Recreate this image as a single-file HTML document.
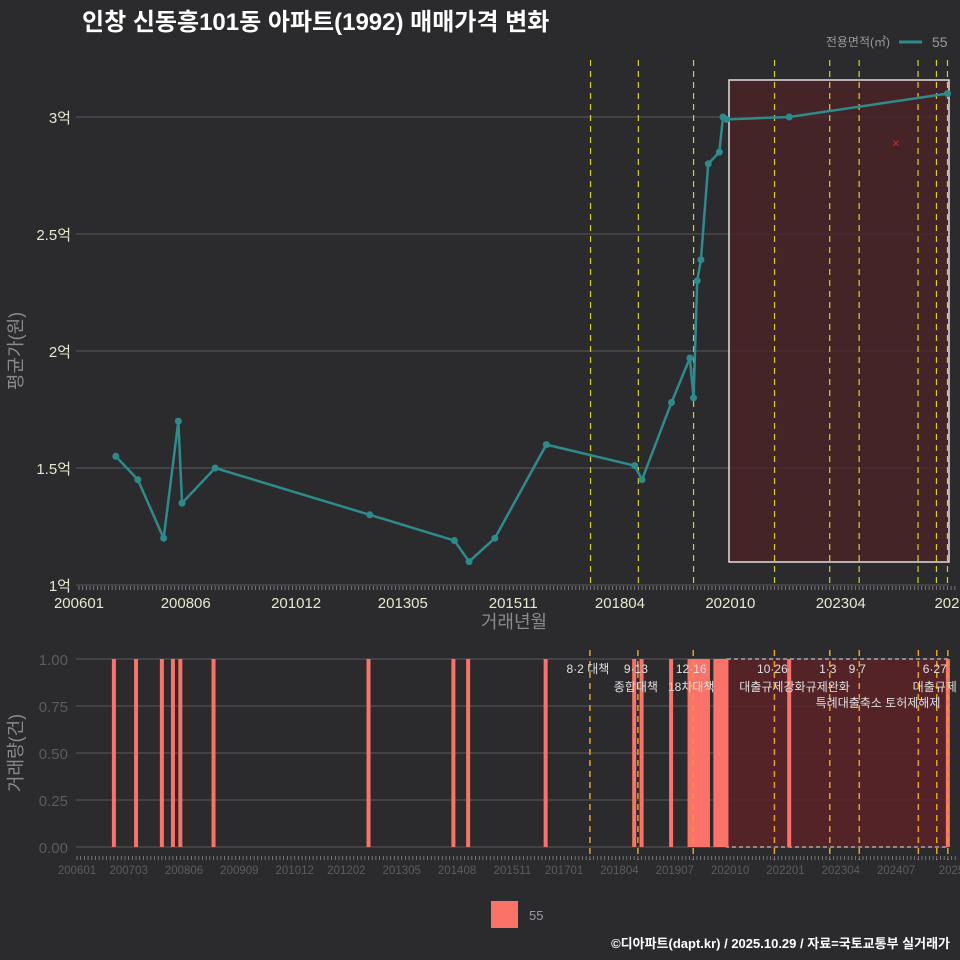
<!DOCTYPE html>
<html><head><meta charset="utf-8">
<style>
html,body{margin:0;padding:0;background:#2b2b2d;}
svg{display:block;font-family:"Liberation Sans","Noto Sans CJK KR",sans-serif;}
</style></head>
<body>
<svg id="chart" width="960" height="960" viewBox="0 0 960 960" xmlns="http://www.w3.org/2000/svg">
<rect width="960" height="960" fill="#2b2b2d"/>
<text x="82" y="30" font-size="24" font-weight="bold" fill="#ffffff">인창 신동흥101동 아파트(1992) 매매가격 변화</text>
<text x="890" y="46" font-size="12" fill="#9a9a9a" text-anchor="end">전용면적(㎡)</text>
<line x1="899" y1="42" x2="922" y2="42" stroke="#2e8b8b" stroke-width="3"/>
<text x="932" y="47" font-size="14" fill="#9a9a9a">55</text>
<g id="topg"></g>
<g id="botg"></g>
<rect x="491" y="901" width="27" height="27" fill="#fa7268"/>
<text x="529" y="920" font-size="13" fill="#9a9a9a">55</text>
<text x="950" y="948" font-size="13" font-weight="bold" fill="#ffffff" text-anchor="end">©디아파트(dapt.kr) / 2025.10.29 / 자료=국토교통부 실거래가</text>
</svg>
<script>
// data: months since 2006-01
const tradeMonths=[10,16,23,27,28,37,79,102,106,113,127,151,153,161,166,167,168,169,171,174,175,176,193,236];
const tradePrices=[1.55,1.45,1.2,1.7,1.35,1.5,1.3,1.19,1.1,1.2,1.6,1.51,1.45,1.78,1.97,1.8,2.3,2.39,2.8,2.85,3.0,2.99,3.0,3.1];
const barMonths=[10,16,23,26,28,37,79,102,106,127,151,153,161,166,167,168,169,170,171,173,174,175,176,193,236];
const barCounts=[1,1,1,1,1,1,1,1,1,1,1,1,1,1,1,1,1,1,1,1,1,1,1,1,1];
const topTickMonths=[0,29,59,88,118,147,177,207,237];
const topTickLabels=["200601","200806","201012","201305","201511","201804","202010","202304","2025"];
const botTickMonths=[0,14,29,44,59,73,88,103,118,132,147,162,177,192,207,222,237];
const botTickLabels=["200601","200703","200806","200909","201012","201202","201305","201408","201511","201701","201804","201907","202010","202201","202304","202407","2025"];
const yTicks=[1,1.5,2,2.5,3];
const yLabels=["1억","1.5억","2억","2.5억","3억"];
const y2Ticks=[0,0.25,0.5,0.75,1];
const y2Labels=["0.00","0.25","0.50","0.75","1.00"];
const policyMonths=[139,152,167,189,204,212,228,233,236];
const policyTop=["8·2 대책","9·13","12·16","10·26","1·3","9·7","","6·27",""];
const policyBot=["","종합대책","18차대책","대출규제강화","규제완화","","","대출규제",""];
const crossMonth=[222];const crossVal=[2.89];

const NS="http://www.w3.org/2000/svg";
function mk(p,t,a){const e=document.createElementNS(NS,t);for(const k in a)e.setAttribute(k,a[k]);p.appendChild(e);return e;}
const xT=m=>79+m*3.68, yT=v=>585-(v-1)*234;
const xB=m=>77+m*3.69, yB=v=>847-v*188;
const topG=document.getElementById('topg'), botG=document.getElementById('botg');

yTicks.forEach((v,i)=>{
  const l=mk(topG,'line',{x1:76,x2:949,y1:yT(v),y2:yT(v),stroke:'#5a5a5a','stroke-width':1});
  
  
  const t=mk(topG,'text',{x:71,y:yT(v)+6,'font-size':15,fill:'#e8e8d0','text-anchor':'end'});
  t.textContent=yLabels[i];
  
  
});
for(let m=0;m<=238;m++){const l=mk(topG,'line',{x1:xT(m),x2:xT(m),y1:586,y2:590,stroke:'#888','stroke-width':0.8});
  
  }
topTickMonths.forEach((m,i)=>{
  const t=mk(topG,'text',{x:xT(m),y:608,'font-size':15,fill:'#e8e8d0','text-anchor':'middle'});
  t.textContent=topTickLabels[i];
  
  
});
let t=mk(topG,'text',{x:514,y:628,'font-size':18,fill:'#8a8a8a','text-anchor':'middle'});t.textContent='거래년월';


t=mk(topG,'text',{x:0,y:0,'font-size':18,fill:'#8a8a8a','text-anchor':'middle',transform:'translate(22,351) rotate(-90)'});t.textContent='평균가(원)';


let r=mk(topG,'rect',{x:729,y:80,width:220,height:482,fill:'#4a2328',opacity:0.85,stroke:'#ffffff','stroke-width':1.5});


policyMonths.forEach(m=>{const l=mk(topG,'line',{x1:xT(m),x2:xT(m),y1:60,y2:585,stroke:'#d4d41e','stroke-width':1.2,'stroke-dasharray':'6,5'});
  
  });
const pts=tradeMonths.map((m,i)=>xT(m)+','+yT(tradePrices[i])).join(' ');
let pl=mk(topG,'polyline',{points:pts,fill:'none',stroke:'#2e8b8b','stroke-width':2.5});


tradeMonths.forEach((m,i)=>{const c=mk(topG,'circle',{cx:xT(m),cy:yT(tradePrices[i]),r:3.5,fill:'#2e8b8b'});
  
  });
crossMonth.forEach((m,i)=>{const x=mk(topG,'text',{x:xT(m),y:yT(crossVal[i])+5,'font-size':13,fill:'#e02020','text-anchor':'middle'});x.textContent='×';
  
  });

y2Ticks.forEach((v,i)=>{
  const l=mk(botG,'line',{x1:76,x2:949,y1:yB(v),y2:yB(v),stroke:'#5a5a5a','stroke-width':1});
  
  
  const t=mk(botG,'text',{x:68,y:yB(v)+6,'font-size':15,fill:'#5c5c5c','text-anchor':'end'});
  t.textContent=y2Labels[i];
  
  
});
r=mk(botG,'rect',{x:727,y:659,width:222,height:188,fill:'#5a2226',opacity:0.85,stroke:'#bbbbbb','stroke-width':1.5,'stroke-dasharray':'4,3'});


barMonths.forEach((m,i)=>{const b=mk(botG,'rect',{x:xB(m)-2,y:yB(barCounts[i]),width:4,height:yB(0)-yB(barCounts[i]),fill:'#fa7268'});
  
  });
policyMonths.forEach((m,i)=>{
  const l=mk(botG,'line',{x1:xB(m),x2:xB(m),y1:650,y2:860,stroke:'#e6a21e','stroke-width':1.5,'stroke-dasharray':'6,5'});
  
  
  if(policyTop[i]){const a=mk(botG,'text',{x:xB(m)-2,y:673,'font-size':12,fill:'#e0e0e0','text-anchor':'middle'});a.textContent=policyTop[i];
    
    }
  if(policyBot[i]){const a=mk(botG,'text',{x:xB(m)-2,y:691,'font-size':12,fill:'#e0e0e0','text-anchor':'middle'});a.textContent=policyBot[i];
    
    }
});
t=mk(botG,'text',{x:878,y:707,'font-size':12,fill:'#e0e0e0','text-anchor':'middle'});t.textContent='특례대출축소 토허제해제';


for(let m=0;m<=238;m++){const l=mk(botG,'line',{x1:xB(m),x2:xB(m),y1:856,y2:860,stroke:'#888','stroke-width':0.8});
  
  }
botTickMonths.forEach((m,i)=>{
  const t=mk(botG,'text',{x:xB(m),y:874,'font-size':11.5,fill:'#5c5c5c','text-anchor':'middle'});
  t.textContent=botTickLabels[i];
  
  
});
t=mk(botG,'text',{x:0,y:0,'font-size':18,fill:'#8a8a8a','text-anchor':'middle',transform:'translate(22,753) rotate(-90)'});t.textContent='거래량(건)';


</script>
</body></html>
